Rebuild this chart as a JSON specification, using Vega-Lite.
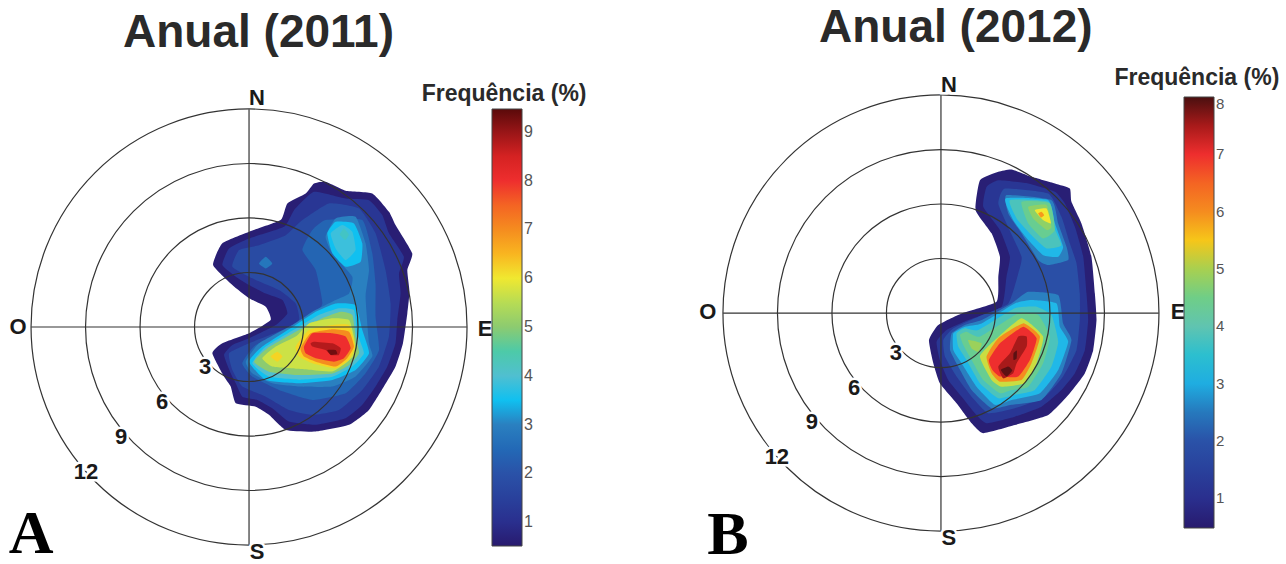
{"$schema":"https://vega.github.io/schema/vega-lite/v6.json","padding":0,"spacing":0,"bounds":"flush","config":{"view":{"stroke":null},"font":"Liberation Sans"},
"datasets":{
"rings":[{"r":3,"x":0,"y":0},{"r":6,"x":0,"y":0},{"r":9,"x":0,"y":0},{"r":12,"x":0,"y":0}],
"cross":[{"x":-12,"x2":12,"y":0,"y2":0},{"x":0,"x2":0,"y":-12,"y2":12}],
"a":[
{"p":"A00","f":0.6,"x":3.58,"y":7.91},{"p":"A00","f":0.6,"x":4.22,"y":8.0},{"p":"A00","f":0.6,"x":5.32,"y":7.51},{"p":"A00","f":0.6,"x":6.79,"y":7.36},{"p":"A00","f":0.6,"x":7.71,"y":6.35},{"p":"A00","f":0.6,"x":8.07,"y":5.62},{"p":"A00","f":0.6,"x":8.99,"y":4.06},{"p":"A00","f":0.6,"x":8.72,"y":3.14},{"p":"A00","f":0.6,"x":8.84,"y":1.95},{"p":"A00","f":0.6,"x":8.72,"y":0.75},{"p":"A00","f":0.6,"x":8.48,"y":-0.9},{"p":"A00","f":0.6,"x":8.07,"y":-2.18},{"p":"A00","f":0.6,"x":7.43,"y":-3.28},{"p":"A00","f":0.6,"x":6.61,"y":-4.57},{"p":"A00","f":0.6,"x":5.51,"y":-5.39},{"p":"A00","f":0.6,"x":3.67,"y":-5.76},{"p":"A00","f":0.6,"x":2.02,"y":-5.67},{"p":"A00","f":0.6,"x":1.1,"y":-4.84},{"p":"A00","f":0.6,"x":0.37,"y":-4.39},{"p":"A00","f":0.6,"x":-0.73,"y":-4.2},{"p":"A00","f":0.6,"x":-1.01,"y":-3.28},{"p":"A00","f":0.6,"x":-1.38,"y":-2.73},{"p":"A00","f":0.6,"x":-2.02,"y":-1.45},{"p":"A00","f":0.6,"x":-1.47,"y":-0.9},{"p":"A00","f":0.6,"x":0,"y":-0.35},{"p":"A00","f":0.6,"x":1.19,"y":0.39},{"p":"A00","f":0.6,"x":0.92,"y":1.12},{"p":"A00","f":0.6,"x":0,"y":1.58},{"p":"A00","f":0.6,"x":-0.92,"y":2.31},{"p":"A00","f":0.6,"x":-1.98,"y":3.41},{"p":"A00","f":0.6,"x":-1.47,"y":4.61},{"p":"A00","f":0.6,"x":0,"y":5.25},{"p":"A00","f":0.6,"x":1.74,"y":5.89},{"p":"A00","f":0.6,"x":2.11,"y":6.81},{"p":"A00","f":0.6,"x":3.12,"y":7.36},
{"p":"A01","f":1.2,"x":3.58,"y":7.45},{"p":"A01","f":1.2,"x":5.32,"y":7.08},{"p":"A01","f":1.2,"x":6.61,"y":6.99},{"p":"A01","f":1.2,"x":7.34,"y":6.17},{"p":"A01","f":1.2,"x":7.71,"y":5.16},{"p":"A01","f":1.2,"x":8.53,"y":3.87},{"p":"A01","f":1.2,"x":8.26,"y":2.95},{"p":"A01","f":1.2,"x":8.35,"y":1.85},{"p":"A01","f":1.2,"x":8.17,"y":0.39},{"p":"A01","f":1.2,"x":8.07,"y":-0.9},{"p":"A01","f":1.2,"x":7.62,"y":-2.18},{"p":"A01","f":1.2,"x":6.97,"y":-3.28},{"p":"A01","f":1.2,"x":6.24,"y":-4.29},{"p":"A01","f":1.2,"x":5.32,"y":-5.03},{"p":"A01","f":1.2,"x":3.67,"y":-5.39},{"p":"A01","f":1.2,"x":2.2,"y":-5.21},{"p":"A01","f":1.2,"x":1.28,"y":-4.48},{"p":"A01","f":1.2,"x":0.46,"y":-4.02},{"p":"A01","f":1.2,"x":-0.37,"y":-3.84},{"p":"A01","f":1.2,"x":-0.73,"y":-3.1},{"p":"A01","f":1.2,"x":-1.01,"y":-2.55},{"p":"A01","f":1.2,"x":-1.38,"y":-1.54},{"p":"A01","f":1.2,"x":-0.92,"y":-0.99},{"p":"A01","f":1.2,"x":0,"y":-0.62},{"p":"A01","f":1.2,"x":1.47,"y":0.11},{"p":"A01","f":1.2,"x":2.11,"y":0.75},{"p":"A01","f":1.2,"x":1.84,"y":1.49},{"p":"A01","f":1.2,"x":0.92,"y":1.85},{"p":"A01","f":1.2,"x":0,"y":2.31},{"p":"A01","f":1.2,"x":-0.73,"y":2.77},{"p":"A01","f":1.2,"x":-1.47,"y":3.41},{"p":"A01","f":1.2,"x":-1.1,"y":4.33},{"p":"A01","f":1.2,"x":0,"y":4.88},{"p":"A01","f":1.2,"x":1.93,"y":5.52},{"p":"A01","f":1.2,"x":2.48,"y":6.44},
{"p":"A02","f":1.8,"x":4.4,"y":6.81},{"p":"A02","f":1.8,"x":6.06,"y":6.53},{"p":"A02","f":1.8,"x":6.97,"y":5.16},{"p":"A02","f":1.8,"x":7.52,"y":3.14},{"p":"A02","f":1.8,"x":7.8,"y":1.3},{"p":"A02","f":1.8,"x":7.71,"y":-0.53},{"p":"A02","f":1.8,"x":7.16,"y":-2.18},{"p":"A02","f":1.8,"x":6.24,"y":-3.47},{"p":"A02","f":1.8,"x":4.95,"y":-4.57},{"p":"A02","f":1.8,"x":3.49,"y":-4.84},{"p":"A02","f":1.8,"x":2.2,"y":-4.57},{"p":"A02","f":1.8,"x":0.92,"y":-3.84},{"p":"A02","f":1.8,"x":-0.37,"y":-3.28},{"p":"A02","f":1.8,"x":-0.92,"y":-2.37},{"p":"A02","f":1.8,"x":-1.1,"y":-1.45},{"p":"A02","f":1.8,"x":0,"y":-0.9},{"p":"A02","f":1.8,"x":1.84,"y":-0.17},{"p":"A02","f":1.8,"x":2.75,"y":0.39},{"p":"A02","f":1.8,"x":2.57,"y":1.3},{"p":"A02","f":1.8,"x":1.65,"y":2.04},{"p":"A02","f":1.8,"x":0.18,"y":2.68},{"p":"A02","f":1.8,"x":-0.92,"y":3.32},{"p":"A02","f":1.8,"x":-0.55,"y":4.24},{"p":"A02","f":1.8,"x":0.55,"y":4.51},{"p":"A02","f":1.8,"x":2.02,"y":5.06},{"p":"A02","f":1.8,"x":2.94,"y":5.89},
{"p":"A03","f":2.4,"x":4.22,"y":5.89},{"p":"A03","f":2.4,"x":6.24,"y":5.89},{"p":"A03","f":2.4,"x":6.79,"y":4.06},{"p":"A03","f":2.4,"x":6.97,"y":2.4},{"p":"A03","f":2.4,"x":6.97,"y":0.57},{"p":"A03","f":2.4,"x":7.16,"y":-1.27},{"p":"A03","f":2.4,"x":6.42,"y":-2.55},{"p":"A03","f":2.4,"x":5.32,"y":-3.65},{"p":"A03","f":2.4,"x":3.49,"y":-4.02},{"p":"A03","f":2.4,"x":1.65,"y":-3.47},{"p":"A03","f":2.4,"x":0.18,"y":-2.73},{"p":"A03","f":2.4,"x":-0.37,"y":-2.0},{"p":"A03","f":2.4,"x":0.37,"y":-0.99},{"p":"A03","f":2.4,"x":2.57,"y":0.02},{"p":"A03","f":2.4,"x":3.49,"y":0.57},{"p":"A03","f":2.4,"x":4.04,"y":1.3},{"p":"A03","f":2.4,"x":3.67,"y":3.14},{"p":"A03","f":2.4,"x":2.94,"y":4.24},{"p":"A03","f":2.4,"x":3.49,"y":5.34},
{"p":"A04","f":2.8,"x":0.55,"y":3.5},{"p":"A04","f":2.8,"x":0.92,"y":3.87},{"p":"A04","f":2.8,"x":1.28,"y":3.5},{"p":"A04","f":2.8,"x":0.92,"y":3.23},
{"p":"A05","f":3.0,"x":4.22,"y":4.97},{"p":"A05","f":3.0,"x":4.77,"y":5.98},{"p":"A05","f":3.0,"x":5.87,"y":6.07},{"p":"A05","f":3.0,"x":6.42,"y":4.61},{"p":"A05","f":3.0,"x":6.61,"y":3.14},{"p":"A05","f":3.0,"x":6.42,"y":1.67},{"p":"A05","f":3.0,"x":6.61,"y":-0.9},{"p":"A05","f":3.0,"x":6.79,"y":-1.63},{"p":"A05","f":3.0,"x":5.87,"y":-2.73},{"p":"A05","f":3.0,"x":4.59,"y":-3.28},{"p":"A05","f":3.0,"x":2.75,"y":-3.28},{"p":"A05","f":3.0,"x":1.28,"y":-3.1},{"p":"A05","f":3.0,"x":0.18,"y":-2.55},{"p":"A05","f":3.0,"x":-0.18,"y":-1.91},{"p":"A05","f":3.0,"x":0.55,"y":-0.9},{"p":"A05","f":3.0,"x":2.39,"y":0.11},{"p":"A05","f":3.0,"x":3.49,"y":0.84},{"p":"A05","f":3.0,"x":4.77,"y":1.49},{"p":"A05","f":3.0,"x":5.51,"y":1.85},{"p":"A05","f":3.0,"x":5.69,"y":2.77},{"p":"A05","f":3.0,"x":4.59,"y":4.06},
{"p":"A06","f":3.5,"x":4.31,"y":5.16},{"p":"A06","f":3.5,"x":4.77,"y":5.8},{"p":"A06","f":3.5,"x":5.78,"y":5.71},{"p":"A06","f":3.5,"x":6.24,"y":4.61},{"p":"A06","f":3.5,"x":6.15,"y":3.6},{"p":"A06","f":3.5,"x":5.32,"y":3.32},{"p":"A06","f":3.5,"x":4.59,"y":4.06},
{"p":"A07","f":3.5,"x":0,"y":-1.91},{"p":"A07","f":3.5,"x":0.73,"y":-1.08},{"p":"A07","f":3.5,"x":2.57,"y":0.11},{"p":"A07","f":3.5,"x":3.67,"y":0.84},{"p":"A07","f":3.5,"x":4.77,"y":1.3},{"p":"A07","f":3.5,"x":5.87,"y":1.21},{"p":"A07","f":3.5,"x":6.24,"y":-0.17},{"p":"A07","f":3.5,"x":6.61,"y":-1.45},{"p":"A07","f":3.5,"x":5.87,"y":-2.37},{"p":"A07","f":3.5,"x":4.59,"y":-2.92},{"p":"A07","f":3.5,"x":2.75,"y":-3.1},{"p":"A07","f":3.5,"x":0.92,"y":-2.92},
{"p":"A08","f":3.8,"x":4.5,"y":5.16},{"p":"A08","f":3.8,"x":5.14,"y":5.62},{"p":"A08","f":3.8,"x":5.69,"y":5.25},{"p":"A08","f":3.8,"x":5.87,"y":4.24},{"p":"A08","f":3.8,"x":5.32,"y":3.69},{"p":"A08","f":3.8,"x":4.77,"y":4.33},
{"p":"A09","f":4.2,"x":5.0,"y":5.1},{"p":"A09","f":4.2,"x":5.23,"y":5.43},{"p":"A09","f":4.2,"x":5.5,"y":5.1},{"p":"A09","f":4.2,"x":5.3,"y":4.8},
{"p":"A10","f":4.0,"x":0.18,"y":-2.0},{"p":"A10","f":4.0,"x":0.92,"y":-1.08},{"p":"A10","f":4.0,"x":2.75,"y":0.02},{"p":"A10","f":4.0,"x":3.85,"y":0.66},{"p":"A10","f":4.0,"x":4.95,"y":1.03},{"p":"A10","f":4.0,"x":5.78,"y":0.94},{"p":"A10","f":4.0,"x":5.96,"y":-0.35},{"p":"A10","f":4.0,"x":6.33,"y":-1.45},{"p":"A10","f":4.0,"x":5.69,"y":-2.18},{"p":"A10","f":4.0,"x":4.59,"y":-2.74},{"p":"A10","f":4.0,"x":2.75,"y":-2.9},{"p":"A10","f":4.0,"x":1.1,"y":-2.73},
{"p":"A11","f":5.0,"x":0.28,"y":-1.91},{"p":"A11","f":5.0,"x":1.01,"y":-1.17},{"p":"A11","f":5.0,"x":2.75,"y":-0.17},{"p":"A11","f":5.0,"x":4.04,"y":0.48},{"p":"A11","f":5.0,"x":5.05,"y":0.84},{"p":"A11","f":5.0,"x":5.69,"y":0.66},{"p":"A11","f":5.0,"x":5.87,"y":-0.53},{"p":"A11","f":5.0,"x":6.06,"y":-1.45},{"p":"A11","f":5.0,"x":5.51,"y":-2.09},{"p":"A11","f":5.0,"x":4.59,"y":-2.56},{"p":"A11","f":5.0,"x":2.75,"y":-2.65},{"p":"A11","f":5.0,"x":1.1,"y":-2.46},
{"p":"A12","f":5.7,"x":0.73,"y":-1.72},{"p":"A12","f":5.7,"x":1.47,"y":-1.08},{"p":"A12","f":5.7,"x":2.57,"y":-0.53},{"p":"A12","f":5.7,"x":3.3,"y":0.2},{"p":"A12","f":5.7,"x":4.59,"y":0.48},{"p":"A12","f":5.7,"x":5.51,"y":0.39},{"p":"A12","f":5.7,"x":5.78,"y":-0.53},{"p":"A12","f":5.7,"x":5.87,"y":-1.45},{"p":"A12","f":5.7,"x":5.32,"y":-2.0},{"p":"A12","f":5.7,"x":4.59,"y":-2.45},{"p":"A12","f":5.7,"x":3.3,"y":-2.35},{"p":"A12","f":5.7,"x":2.57,"y":-2.3},{"p":"A12","f":5.7,"x":1.28,"y":-2.18},
{"p":"A13","f":6.2,"x":1.19,"y":-1.63},{"p":"A13","f":6.2,"x":1.56,"y":-1.36},{"p":"A13","f":6.2,"x":1.84,"y":-1.63},{"p":"A13","f":6.2,"x":1.56,"y":-1.91},
{"p":"A14","f":6.2,"x":2.57,"y":-1.08},{"p":"A14","f":6.2,"x":3.3,"y":-0.17},{"p":"A14","f":6.2,"x":4.59,"y":0.11},{"p":"A14","f":6.2,"x":5.51,"y":0.11},{"p":"A14","f":6.2,"x":5.84,"y":-1.08},{"p":"A14","f":6.2,"x":5.51,"y":-1.82},{"p":"A14","f":6.2,"x":4.77,"y":-2.28},{"p":"A14","f":6.2,"x":3.49,"y":-2.0},{"p":"A14","f":6.2,"x":2.75,"y":-1.63},
{"p":"A15","f":7.0,"x":2.84,"y":-1.17},{"p":"A15","f":7.0,"x":3.39,"y":-0.35},{"p":"A15","f":7.0,"x":4.59,"y":-0.13},{"p":"A15","f":7.0,"x":5.51,"y":-0.26},{"p":"A15","f":7.0,"x":5.78,"y":-1.08},{"p":"A15","f":7.0,"x":5.41,"y":-1.72},{"p":"A15","f":7.0,"x":4.77,"y":-2.18},{"p":"A15","f":7.0,"x":3.67,"y":-1.91},{"p":"A15","f":7.0,"x":3.03,"y":-1.63},
{"p":"A16","f":8.0,"x":3.03,"y":-1.08},{"p":"A16","f":8.0,"x":3.49,"y":-0.35},{"p":"A16","f":8.0,"x":4.59,"y":-0.35},{"p":"A16","f":8.0,"x":5.32,"y":-0.53},{"p":"A16","f":8.0,"x":5.6,"y":-1.17},{"p":"A16","f":8.0,"x":5.23,"y":-1.72},{"p":"A16","f":8.0,"x":4.68,"y":-1.91},{"p":"A16","f":8.0,"x":3.67,"y":-1.72},{"p":"A16","f":8.0,"x":3.12,"y":-1.45},
{"p":"A17","f":8.8,"x":3.39,"y":-0.9},{"p":"A17","f":8.8,"x":3.58,"y":-0.81},{"p":"A17","f":8.8,"x":4.59,"y":-0.9},{"p":"A17","f":8.8,"x":5.05,"y":-1.17},{"p":"A17","f":8.8,"x":4.95,"y":-1.54},{"p":"A17","f":8.8,"x":4.5,"y":-1.54},{"p":"A17","f":8.8,"x":4.22,"y":-1.27},{"p":"A17","f":8.8,"x":3.49,"y":-1.08},
{"p":"A18","f":9.3,"x":4.31,"y":-1.27},{"p":"A18","f":9.3,"x":4.77,"y":-1.27},{"p":"A18","f":9.3,"x":4.86,"y":-1.49},{"p":"A18","f":9.3,"x":4.5,"y":-1.54}
],
"b":[
{"p":"B00","f":0.6,"x":3.16,"y":7.78},{"p":"B00","f":0.6,"x":3.89,"y":7.91},{"p":"B00","f":0.6,"x":4.99,"y":7.51},{"p":"B00","f":0.6,"x":6.28,"y":7.14},{"p":"B00","f":0.6,"x":7.1,"y":6.86},{"p":"B00","f":0.6,"x":7.19,"y":6.13},{"p":"B00","f":0.6,"x":7.74,"y":4.94},{"p":"B00","f":0.6,"x":8.29,"y":3.1},{"p":"B00","f":0.6,"x":8.48,"y":1.08},{"p":"B00","f":0.6,"x":8.57,"y":-0.39},{"p":"B00","f":0.6,"x":8.39,"y":-2.04},{"p":"B00","f":0.6,"x":7.93,"y":-3.32},{"p":"B00","f":0.6,"x":7.1,"y":-4.42},{"p":"B00","f":0.6,"x":5.91,"y":-5.62},{"p":"B00","f":0.6,"x":4.07,"y":-6.17},{"p":"B00","f":0.6,"x":2.33,"y":-6.62},{"p":"B00","f":0.6,"x":1.69,"y":-6.07},{"p":"B00","f":0.6,"x":0.86,"y":-4.97},{"p":"B00","f":0.6,"x":-0.06,"y":-3.87},{"p":"B00","f":0.6,"x":-0.42,"y":-2.77},{"p":"B00","f":0.6,"x":-0.66,"y":-1.49},{"p":"B00","f":0.6,"x":-0.15,"y":-0.66},{"p":"B00","f":0.6,"x":1.14,"y":-0.02},{"p":"B00","f":0.6,"x":3.06,"y":0.62},{"p":"B00","f":0.6,"x":3.16,"y":2.0},{"p":"B00","f":0.6,"x":3.25,"y":3.1},{"p":"B00","f":0.6,"x":2.79,"y":4.39},{"p":"B00","f":0.6,"x":1.91,"y":5.67},{"p":"B00","f":0.6,"x":2.15,"y":7.32},
{"p":"B01","f":1.2,"x":3.16,"y":7.32},{"p":"B01","f":1.2,"x":4.81,"y":7.14},{"p":"B01","f":1.2,"x":6.28,"y":6.68},{"p":"B01","f":1.2,"x":6.83,"y":6.04},{"p":"B01","f":1.2,"x":7.38,"y":4.75},{"p":"B01","f":1.2,"x":7.84,"y":3.1},{"p":"B01","f":1.2,"x":8.02,"y":1.08},{"p":"B01","f":1.2,"x":8.11,"y":-0.39},{"p":"B01","f":1.2,"x":7.93,"y":-2.04},{"p":"B01","f":1.2,"x":7.38,"y":-3.32},{"p":"B01","f":1.2,"x":6.64,"y":-4.24},{"p":"B01","f":1.2,"x":5.54,"y":-5.16},{"p":"B01","f":1.2,"x":4.07,"y":-5.71},{"p":"B01","f":1.2,"x":2.51,"y":-6.07},{"p":"B01","f":1.2,"x":1.87,"y":-5.52},{"p":"B01","f":1.2,"x":1.14,"y":-4.61},{"p":"B01","f":1.2,"x":0.4,"y":-3.69},{"p":"B01","f":1.2,"x":-0.06,"y":-2.59},{"p":"B01","f":1.2,"x":-0.24,"y":-1.58},{"p":"B01","f":1.2,"x":0.31,"y":-0.94},{"p":"B01","f":1.2,"x":1.5,"y":-0.39},{"p":"B01","f":1.2,"x":3.34,"y":0.35},{"p":"B01","f":1.2,"x":3.61,"y":2.0},{"p":"B01","f":1.2,"x":3.8,"y":3.1},{"p":"B01","f":1.2,"x":3.25,"y":4.57},{"p":"B01","f":1.2,"x":2.33,"y":5.85},{"p":"B01","f":1.2,"x":2.51,"y":6.95},
{"p":"B02","f":1.9,"x":3.52,"y":6.86},{"p":"B02","f":1.9,"x":5.91,"y":6.59},{"p":"B02","f":1.9,"x":6.64,"y":5.3},{"p":"B02","f":1.9,"x":7.1,"y":3.84},{"p":"B02","f":1.9,"x":7.47,"y":2.73},{"p":"B02","f":1.9,"x":7.65,"y":1.08},{"p":"B02","f":1.9,"x":7.65,"y":-0.39},{"p":"B02","f":1.9,"x":7.47,"y":-2.04},{"p":"B02","f":1.9,"x":6.73,"y":-3.5},{"p":"B02","f":1.9,"x":5.73,"y":-4.61},{"p":"B02","f":1.9,"x":4.07,"y":-5.25},{"p":"B02","f":1.9,"x":2.61,"y":-5.52},{"p":"B02","f":1.9,"x":1.69,"y":-4.61},{"p":"B02","f":1.9,"x":0.86,"y":-3.5},{"p":"B02","f":1.9,"x":0.22,"y":-2.4},{"p":"B02","f":1.9,"x":0.13,"y":-1.49},{"p":"B02","f":1.9,"x":0.68,"y":-0.84},{"p":"B02","f":1.9,"x":2.06,"y":-0.2},{"p":"B02","f":1.9,"x":3.71,"y":0.53},{"p":"B02","f":1.9,"x":4.26,"y":2.18},{"p":"B02","f":1.9,"x":4.44,"y":3.1},{"p":"B02","f":1.9,"x":3.61,"y":4.94},{"p":"B02","f":1.9,"x":3.16,"y":6.04},
{"p":"B03","f":2.6,"x":3.61,"y":6.5},{"p":"B03","f":2.6,"x":6.09,"y":6.22},{"p":"B03","f":2.6,"x":6.46,"y":4.94},{"p":"B03","f":2.6,"x":6.92,"y":3.65},{"p":"B03","f":2.6,"x":7.01,"y":2.92},{"p":"B03","f":2.6,"x":5.91,"y":2.64},{"p":"B03","f":2.6,"x":5.36,"y":2.92},{"p":"B03","f":2.6,"x":4.44,"y":4.39},{"p":"B03","f":2.6,"x":3.71,"y":5.49},
{"p":"B04","f":2.6,"x":0.59,"y":-1.12},{"p":"B04","f":2.6,"x":1.32,"y":-0.66},{"p":"B04","f":2.6,"x":2.24,"y":-0.39},{"p":"B04","f":2.6,"x":3.89,"y":0.53},{"p":"B04","f":2.6,"x":4.81,"y":1.17},{"p":"B04","f":2.6,"x":6.46,"y":0.99},{"p":"B04","f":2.6,"x":6.73,"y":-0.57},{"p":"B04","f":2.6,"x":7.19,"y":-1.49},{"p":"B04","f":2.6,"x":6.64,"y":-3.32},{"p":"B04","f":2.6,"x":5.54,"y":-4.79},{"p":"B04","f":2.6,"x":3.89,"y":-5.06},{"p":"B04","f":2.6,"x":2.79,"y":-5.25},{"p":"B04","f":2.6,"x":1.69,"y":-4.24},{"p":"B04","f":2.6,"x":0.95,"y":-2.95},{"p":"B04","f":2.6,"x":0.5,"y":-2.04},
{"p":"B05","f":3.1,"x":3.56,"y":6.31},{"p":"B05","f":3.1,"x":5.91,"y":6.22},{"p":"B05","f":3.1,"x":6.28,"y":4.94},{"p":"B05","f":3.1,"x":6.73,"y":3.65},{"p":"B05","f":3.1,"x":6.46,"y":3.1},{"p":"B05","f":3.1,"x":5.63,"y":3.19},{"p":"B05","f":3.1,"x":4.81,"y":4.02},{"p":"B05","f":3.1,"x":3.98,"y":5.12},
{"p":"B06","f":3.1,"x":0.68,"y":-1.12},{"p":"B06","f":3.1,"x":1.32,"y":-0.75},{"p":"B06","f":3.1,"x":2.24,"y":-0.57},{"p":"B06","f":3.1,"x":4.07,"y":0.53},{"p":"B06","f":3.1,"x":4.99,"y":0.72},{"p":"B06","f":3.1,"x":6.37,"y":0.53},{"p":"B06","f":3.1,"x":6.55,"y":-0.75},{"p":"B06","f":3.1,"x":7.01,"y":-1.58},{"p":"B06","f":3.1,"x":6.46,"y":-3.14},{"p":"B06","f":3.1,"x":5.45,"y":-4.42},{"p":"B06","f":3.1,"x":3.89,"y":-4.79},{"p":"B06","f":3.1,"x":2.97,"y":-5.06},{"p":"B06","f":3.1,"x":1.96,"y":-4.06},{"p":"B06","f":3.1,"x":1.14,"y":-2.77},{"p":"B06","f":3.1,"x":0.68,"y":-2.04},
{"p":"B07","f":3.8,"x":3.8,"y":6.22},{"p":"B07","f":3.8,"x":5.91,"y":6.13},{"p":"B07","f":3.8,"x":6.18,"y":4.84},{"p":"B07","f":3.8,"x":6.64,"y":3.74},{"p":"B07","f":3.8,"x":5.82,"y":3.56},{"p":"B07","f":3.8,"x":4.99,"y":4.29},{"p":"B07","f":3.8,"x":4.17,"y":5.21},
{"p":"B08","f":3.8,"x":0.86,"y":-1.12},{"p":"B08","f":3.8,"x":1.32,"y":-0.84},{"p":"B08","f":3.8,"x":2.06,"y":-0.94},{"p":"B08","f":3.8,"x":4.07,"y":0.26},{"p":"B08","f":3.8,"x":5.27,"y":0.35},{"p":"B08","f":3.8,"x":6.09,"y":-0.11},{"p":"B08","f":3.8,"x":6.46,"y":-1.58},{"p":"B08","f":3.8,"x":6.09,"y":-2.95},{"p":"B08","f":3.8,"x":5.17,"y":-4.24},{"p":"B08","f":3.8,"x":4.07,"y":-4.51},{"p":"B08","f":3.8,"x":3.16,"y":-4.7},{"p":"B08","f":3.8,"x":2.15,"y":-3.87},{"p":"B08","f":3.8,"x":1.41,"y":-2.59},{"p":"B08","f":3.8,"x":0.95,"y":-1.85},
{"p":"B09","f":4.4,"x":4.44,"y":6.13},{"p":"B09","f":4.4,"x":6.0,"y":6.04},{"p":"B09","f":4.4,"x":6.28,"y":4.57},{"p":"B09","f":4.4,"x":5.63,"y":4.11},{"p":"B09","f":4.4,"x":4.81,"y":4.94},
{"p":"B10","f":4.4,"x":1.05,"y":-1.21},{"p":"B10","f":4.4,"x":1.41,"y":-1.03},{"p":"B10","f":4.4,"x":2.15,"y":-1.3},{"p":"B10","f":4.4,"x":4.26,"y":-0.02},{"p":"B10","f":4.4,"x":5.36,"y":-0.11},{"p":"B10","f":4.4,"x":6.0,"y":-1.3},{"p":"B10","f":4.4,"x":5.63,"y":-2.77},{"p":"B10","f":4.4,"x":4.81,"y":-4.06},{"p":"B10","f":4.4,"x":3.89,"y":-4.24},{"p":"B10","f":4.4,"x":3.25,"y":-4.42},{"p":"B10","f":4.4,"x":2.33,"y":-3.69},{"p":"B10","f":4.4,"x":1.69,"y":-2.59},{"p":"B10","f":4.4,"x":1.23,"y":-1.76},
{"p":"B11","f":4.8,"x":4.81,"y":5.85},{"p":"B11","f":4.8,"x":5.82,"y":5.95},{"p":"B11","f":4.8,"x":6.09,"y":4.75},{"p":"B11","f":4.8,"x":5.82,"y":4.57},{"p":"B11","f":4.8,"x":5.08,"y":5.21},
{"p":"B19","f":5.2,"x":5.17,"y":5.67},{"p":"B19","f":5.2,"x":5.82,"y":5.76},{"p":"B19","f":5.2,"x":6.06,"y":4.94},{"p":"B19","f":5.2,"x":5.63,"y":5.12},
{"p":"B20","f":5.9,"x":5.36,"y":5.49},{"p":"B20","f":5.9,"x":5.54,"y":5.58},{"p":"B20","f":5.9,"x":5.69,"y":5.39},{"p":"B20","f":5.9,"x":5.51,"y":5.27},
{"p":"B12","f":4.9,"x":1.5,"y":-1.49},{"p":"B12","f":4.9,"x":2.24,"y":-1.67},{"p":"B12","f":4.9,"x":2.06,"y":-2.13},{"p":"B12","f":4.9,"x":1.69,"y":-1.95},
{"p":"B13","f":5.1,"x":2.15,"y":-2.4},{"p":"B13","f":5.1,"x":2.97,"y":-1.49},{"p":"B13","f":5.1,"x":4.44,"y":-0.29},{"p":"B13","f":5.1,"x":5.63,"y":-1.3},{"p":"B13","f":5.1,"x":5.27,"y":-2.77},{"p":"B13","f":5.1,"x":4.62,"y":-3.87},{"p":"B13","f":5.1,"x":3.34,"y":-4.06},{"p":"B13","f":5.1,"x":2.79,"y":-3.69},
{"p":"B14","f":6.0,"x":2.51,"y":-2.4},{"p":"B14","f":6.0,"x":3.16,"y":-1.39},{"p":"B14","f":6.0,"x":4.53,"y":-0.57},{"p":"B14","f":6.0,"x":5.45,"y":-1.3},{"p":"B14","f":6.0,"x":4.99,"y":-2.77},{"p":"B14","f":6.0,"x":4.44,"y":-3.69},{"p":"B14","f":6.0,"x":3.25,"y":-3.78},{"p":"B14","f":6.0,"x":2.79,"y":-3.32},
{"p":"B15","f":7.0,"x":2.64,"y":-2.59},{"p":"B15","f":7.0,"x":3.25,"y":-1.67},{"p":"B15","f":7.0,"x":4.53,"y":-0.75},{"p":"B15","f":7.0,"x":5.27,"y":-1.39},{"p":"B15","f":7.0,"x":4.9,"y":-2.59},{"p":"B15","f":7.0,"x":4.26,"y":-3.5},{"p":"B15","f":7.0,"x":3.25,"y":-3.5},{"p":"B15","f":7.0,"x":2.83,"y":-3.14},
{"p":"B16","f":7.5,"x":3.8,"y":-2.22},{"p":"B16","f":7.5,"x":4.26,"y":-1.3},{"p":"B16","f":7.5,"x":4.72,"y":-1.3},{"p":"B16","f":7.5,"x":4.72,"y":-1.85},{"p":"B16","f":7.5,"x":4.17,"y":-2.77},{"p":"B16","f":7.5,"x":3.98,"y":-3.32},{"p":"B16","f":7.5,"x":3.43,"y":-3.6},{"p":"B16","f":7.5,"x":3.16,"y":-2.95},
{"p":"B17","f":7.9,"x":3.3,"y":-3.14},{"p":"B17","f":7.9,"x":3.71,"y":-2.95},{"p":"B17","f":7.9,"x":3.93,"y":-3.17},{"p":"B17","f":7.9,"x":3.61,"y":-3.5},
{"p":"B18","f":7.9,"x":4.0,"y":-2.22},{"p":"B18","f":7.9,"x":4.18,"y":-2.07},{"p":"B18","f":7.9,"x":4.17,"y":-2.5},{"p":"B18","f":7.9,"x":4.0,"y":-2.59}
]},
"hconcat":[
{"width":650,"height":564,"title":{"text":"Anual (2011)","anchor":"start","frame":"group","orient":"top","offset":-57,"dx":123,"fontSize":46,"fontWeight":"bold","font":"Liberation Sans","color":"#2a2a2a"},
"layer":[
{"data":{"name":"a"},"mark":{"type":"line","filled":true,"interpolate":"cardinal-closed","tension":0.55,"strokeWidth":0},
"encoding":{"x":{"field":"x","type":"quantitative","axis":null,"scale":{"domain":[-13.72,22.09],"nice":false,"zero":false}},"y":{"field":"y","type":"quantitative","axis":null,"scale":{"domain":[-13.06,18.02],"nice":false,"zero":false}},"detail":{"field":"p"},"order":{"value":null},
"fill":{"field":"f","type":"quantitative","scale":{"domain":[0.51,1,2,3,3.5,4,5,6,6.5,7,8,8.6,9.47],"range":["#281a6e","#2a2f8e","#2a52a8","#2a80c0","#10c0f0","#50bfd0","#8ccb70","#f0e830","#f9b520","#f58c1f","#ee2e2e","#d02020","#5a0a0a"]},
"legend":{"title":null,"orient":"none","legendX":492,"legendY":109,"gradientLength":437,"gradientThickness":30,"gradientStrokeColor":"#444","gradientStrokeWidth":1,"values":[1,2,3,4,5,6,7,8,9],"tickCount":9,"labelFontSize":16,"labelColor":"#555","labelFont":"Liberation Sans","labelOffset":2}}}},
{"data":{"name":"cross"},"mark":{"type":"rule","stroke":"#333","strokeWidth":1.2},"encoding":{"x":{"field":"x","type":"quantitative"},"x2":{"field":"x2"},"y":{"field":"y","type":"quantitative"},"y2":{"field":"y2"}}},
{"data":{"name":"rings"},"mark":{"type":"point","filled":false,"stroke":"#333","strokeWidth":1.2,"opacity":1},"encoding":{"x":{"field":"x","type":"quantitative"},"y":{"field":"y","type":"quantitative"},"size":{"field":"r","type":"quantitative","legend":null,"scale":{"type":"pow","exponent":2,"domain":[0,12],"range":[0,190096]}}}},
{"data":{"values":[{"t":"3","x":-2.42,"y":-2.2},{"t":"6","x":-4.79,"y":-4.13},{"t":"9","x":-7.05,"y":-6.06},{"t":"12","x":-8.98,"y":-7.98},{"t":"N","x":0.44,"y":12.6},{"t":"S","x":0.44,"y":-12.42},{"t":"O","x":-12.73,"y":0},{"t":"E","x":13.0,"y":-0.11}]},"mark":{"type":"text","fontSize":22,"fontWeight":"bold","font":"Liberation Sans","stroke":"white","strokeWidth":5,"fill":"white"},"encoding":{"x":{"field":"x","type":"quantitative"},"y":{"field":"y","type":"quantitative"},"text":{"field":"t"}}},
{"data":{"values":[{"t":"3","x":-2.42,"y":-2.2},{"t":"6","x":-4.79,"y":-4.13},{"t":"9","x":-7.05,"y":-6.06},{"t":"12","x":-8.98,"y":-7.98},{"t":"N","x":0.44,"y":12.6},{"t":"S","x":0.44,"y":-12.42},{"t":"O","x":-12.73,"y":0},{"t":"E","x":13.0,"y":-0.11}]},"mark":{"type":"text","fontSize":22,"fontWeight":"bold","font":"Liberation Sans","fill":"#1a1a1a"},"encoding":{"x":{"field":"x","type":"quantitative"},"y":{"field":"y","type":"quantitative"},"text":{"field":"t"}}},
{"data":{"values":[{"t":"Frequência (%)","x":14.05,"y":12.84}]},"mark":{"type":"text","fontSize":23,"fontWeight":"bold","font":"Liberation Sans","fill":"#2a2a2a"},"encoding":{"x":{"field":"x","type":"quantitative"},"y":{"field":"y","type":"quantitative"},"text":{"field":"t"}}},
{"data":{"values":[{"t":"A","x":-12.01,"y":-11.4}]},"mark":{"type":"text","fontSize":62,"fontWeight":"bold","font":"Liberation Serif","fill":"#000"},"encoding":{"x":{"field":"x","type":"quantitative"},"y":{"field":"y","type":"quantitative"},"text":{"field":"t"}}}
]},
{"width":636,"height":564,"title":{"text":"Anual (2012)","anchor":"start","frame":"group","orient":"top","offset":-52,"dx":169,"fontSize":46,"fontWeight":"bold","font":"Liberation Sans","color":"#2a2a2a"},
"layer":[
{"data":{"name":"b"},"mark":{"type":"line","filled":true,"interpolate":"cardinal-closed","tension":0.55,"strokeWidth":0},
"encoding":{"x":{"field":"x","type":"quantitative","axis":null,"scale":{"domain":[-16.03,19.01],"nice":false,"zero":false}},"y":{"field":"y","type":"quantitative","axis":null,"scale":{"domain":[-13.83,17.25],"nice":false,"zero":false}},"detail":{"field":"p"},"order":{"value":null},
"fill":{"field":"f","type":"quantitative","scale":{"domain":[0.48,1,2,2.6,3.1,4,5,5.2,6,7,7.5,8],"range":["#281a6e","#2a2f8e","#2a52a8","#2a80c0","#20b8e8","#60c4b0","#a8d050","#f0e830","#f58c1f","#ee2e2e","#a81a1a","#4a0f0f"]},
"legend":{"title":null,"orient":"none","legendX":534,"legendY":97,"gradientLength":431,"gradientThickness":30,"gradientStrokeColor":"#444","gradientStrokeWidth":1,"values":[1,2,3,4,5,6,7,8],"tickCount":8,"labelFontSize":15,"labelColor":"#555","labelFont":"Liberation Sans","labelOffset":2}}}},
{"data":{"name":"cross"},"mark":{"type":"rule","stroke":"#333","strokeWidth":1.2},"encoding":{"x":{"field":"x","type":"quantitative"},"x2":{"field":"x2"},"y":{"field":"y","type":"quantitative"},"y2":{"field":"y2"}}},
{"data":{"name":"rings"},"mark":{"type":"point","filled":false,"stroke":"#333","strokeWidth":1.2,"opacity":1},"encoding":{"x":{"field":"x","type":"quantitative"},"y":{"field":"y","type":"quantitative"},"size":{"field":"r","type":"quantitative","legend":null,"scale":{"type":"pow","exponent":2,"domain":[0,12],"range":[0,190096]}}}},
{"data":{"values":[{"t":"3","x":-2.48,"y":-2.2},{"t":"6","x":-4.79,"y":-4.13},{"t":"9","x":-7.11,"y":-6.0},{"t":"12","x":-9.04,"y":-7.93},{"t":"N","x":0.44,"y":12.54},{"t":"S","x":0.44,"y":-12.42},{"t":"O","x":-12.84,"y":0.06},{"t":"E","x":13.06,"y":0.06}]},"mark":{"type":"text","fontSize":22,"fontWeight":"bold","font":"Liberation Sans","stroke":"white","strokeWidth":5,"fill":"white"},"encoding":{"x":{"field":"x","type":"quantitative"},"y":{"field":"y","type":"quantitative"},"text":{"field":"t"}}},
{"data":{"values":[{"t":"3","x":-2.48,"y":-2.2},{"t":"6","x":-4.79,"y":-4.13},{"t":"9","x":-7.11,"y":-6.0},{"t":"12","x":-9.04,"y":-7.93},{"t":"N","x":0.44,"y":12.54},{"t":"S","x":0.44,"y":-12.42},{"t":"O","x":-12.84,"y":0.06},{"t":"E","x":13.06,"y":0.06}]},"mark":{"type":"text","fontSize":22,"fontWeight":"bold","font":"Liberation Sans","fill":"#1a1a1a"},"encoding":{"x":{"field":"x","type":"quantitative"},"y":{"field":"y","type":"quantitative"},"text":{"field":"t"}}},
{"data":{"values":[{"t":"Frequência (%)","x":14.1,"y":12.95}]},"mark":{"type":"text","fontSize":23,"fontWeight":"bold","font":"Liberation Sans","fill":"#2a2a2a"},"encoding":{"x":{"field":"x","type":"quantitative"},"y":{"field":"y","type":"quantitative"},"text":{"field":"t"}}},
{"data":{"values":[{"t":"B","x":-11.74,"y":-12.23}]},"mark":{"type":"text","fontSize":62,"fontWeight":"bold","font":"Liberation Serif","fill":"#000"},"encoding":{"x":{"field":"x","type":"quantitative"},"y":{"field":"y","type":"quantitative"},"text":{"field":"t"}}}
]}
],"resolve":{"scale":{"fill":"independent","size":"independent"},"legend":{"fill":"independent"}}}
